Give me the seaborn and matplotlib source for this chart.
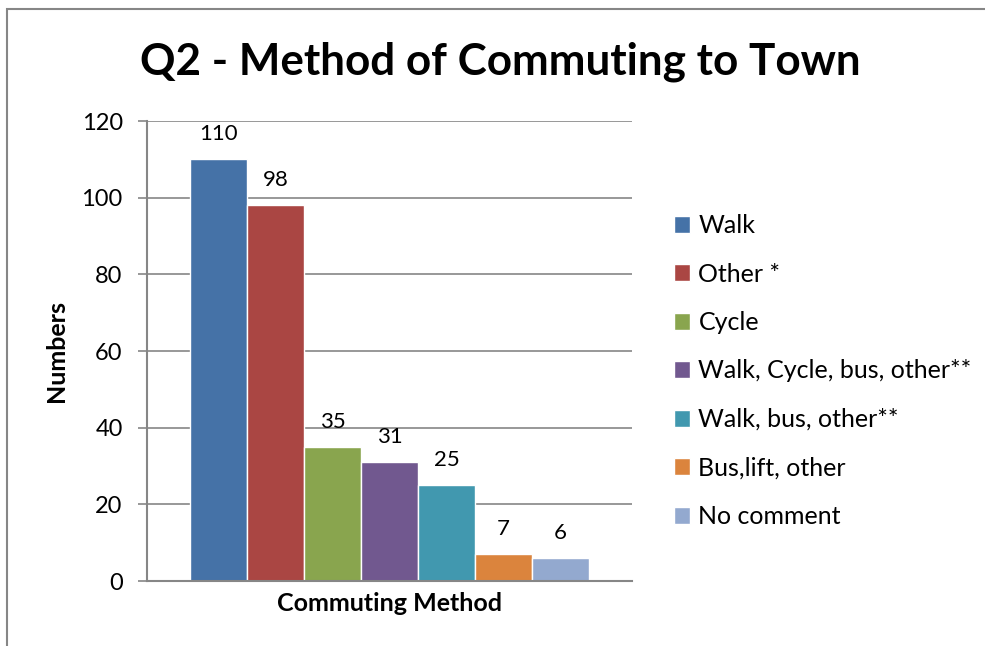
import matplotlib
matplotlib.use("Agg")
import matplotlib.pyplot as plt
import seaborn as sns
import pandas as pd
from matplotlib.patches import Rectangle

# data
methods = ["Walk", "Other *", "Cycle", "Walk, Cycle, bus, other**",
           "Walk, bus, other**", "Bus,lift, other", "No comment"]
counts = [110, 98, 35, 31, 25, 7, 6]
colors = ["#4572A7", "#AA4643", "#89A54E", "#71588F", "#4198AF", "#DB843D", "#93A9CF"]
yticks = [0, 20, 40, 60, 80, 100, 120]

df = pd.DataFrame({"group": [""] * len(methods), "method": methods, "count": counts})

sns.set_style("white")
plt.rcParams["font.family"] = ["Lato", "DejaVu Sans"]
plt.rcParams["text.color"] = "black"
plt.rcParams["axes.labelcolor"] = "black"
plt.rcParams["ytick.labelcolor"] = "black"

fig = plt.figure(figsize=(9.85, 6.46), dpi=100)
ax = fig.add_axes([147 / 985, 1 - 581 / 646, (632 - 147) / 985, (581 - 121) / 646])

sns.barplot(data=df, x="group", y="count", hue="method", hue_order=methods,
            palette=colors, width=0.823, saturation=1, ax=ax, legend=True)

# value labels
for c in ax.containers:
    ax.bar_label(c, fmt="%d", padding=11, fontsize=16, color="black")

ax.set_ylim(0, 120)
ax.set_xlim(-0.5, 0.5)
ax.set_yticks(yticks)
ax.tick_params(axis="y", labelsize=17, length=6.5, width=1.2, pad=11, color="#868686",
               direction="out", left=True)
ax.tick_params(axis="x", bottom=False, labelbottom=False)
ax.yaxis.grid(True, color="#868686", linewidth=1.2)
ax.set_axisbelow(True)
for s in ["top", "right"]:
    ax.spines[s].set_visible(False)
for s in ["left", "bottom"]:
    ax.spines[s].set_color("#868686")
    ax.spines[s].set_linewidth(1.5)

ax.set_xlabel("Commuting Method", fontsize=18, fontweight="bold", labelpad=8)
ax.set_ylabel("Numbers", fontsize=18, fontweight="bold", labelpad=10)

# legend on the right
h, l = ax.get_legend_handles_labels()
ax.get_legend().remove()
fig.legend(h, l, loc="center left", bbox_to_anchor=(651 / 985, 1 - 371 / 646),
           frameon=False, fontsize=18, handlelength=0.65, handleheight=0.65,
           handletextpad=0.35, labelspacing=1.02)

fig.suptitle("Q2 - Method of Commuting to Town", fontsize=31.7, fontweight="bold",
             x=0.508, y=1 - 62 / 646, va="center")

# outer chart border
fig.patches.append(Rectangle((7 / 985, -0.1), 1.2, 1 - 9 / 646 + 0.1,
                             transform=fig.transFigure, fill=False,
                             edgecolor="#868686", linewidth=1.5))

fig.savefig("out.png", dpi=100, facecolor="white")
